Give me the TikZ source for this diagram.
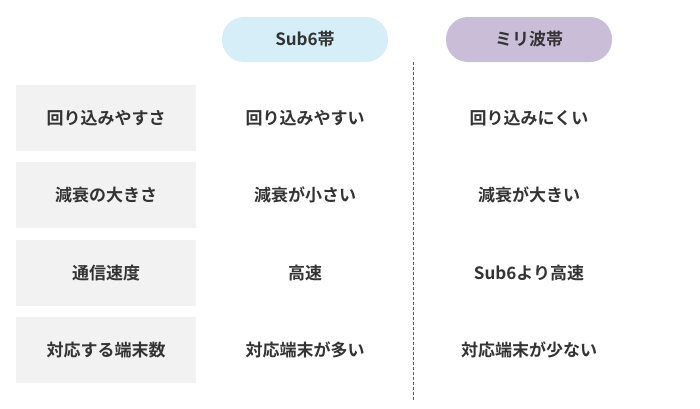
\documentclass[tikz,border=0pt]{standalone}
\usepackage{fontspec}
\setmainfont{Noto Sans CJK JP}[BoldFont={Noto Sans CJK JP Bold}]
\definecolor{txt}{HTML}{333333}
\definecolor{graybox}{HTML}{F2F2F2}
\definecolor{bluepill}{HTML}{D5EEF7}
\definecolor{purplepill}{HTML}{C9BDD8}
\tikzset{
  lbl/.style={font=\bfseries\fontsize{17}{19}\selectfont, text=txt},
  rowbox/.style={fill=graybox, draw=none, minimum width=180pt, minimum height=66pt, lbl},
  pill/.style={rounded corners=22pt, draw=none, minimum width=166pt, minimum height=45pt, lbl}
}
\begin{document}
\begin{tikzpicture}[x=1pt,y=-1pt]
\useasboundingbox (0,0) rectangle (700,408);
\node[pill, fill=bluepill] (h1) at (305,39.5) {Sub6帯};
\node[pill, fill=purplepill] (h2) at (529,39.5) {ミリ波帯};
\coordinate (d1) at (413,62);
\coordinate (d2) at (413,401);
\draw[txt!80, densely dashed, line width=0.9pt] (d1) -- (d2);
\node[rowbox] (r1) at (106,118) {回り込みやすさ};
\node[rowbox] (r2) at (106,195) {減衰の大きさ};
\node[rowbox] (r3) at (106,273) {通信速度};
\node[rowbox] (r4) at (106,350) {対応する端末数};
\node[lbl] (a1) at (305,118) {回り込みやすい};
\node[lbl] (a2) at (305,195) {減衰が小さい};
\node[lbl] (a3) at (305,273) {高速};
\node[lbl] (a4) at (305,350) {対応端末が多い};
\node[lbl] (b1) at (529,118) {回り込みにくい};
\node[lbl] (b2) at (529,195) {減衰が大きい};
\node[lbl] (b3) at (529,273) {Sub6より高速};
\node[lbl] (b4) at (529,350) {対応端末が少ない};
\end{tikzpicture}
\end{document}
